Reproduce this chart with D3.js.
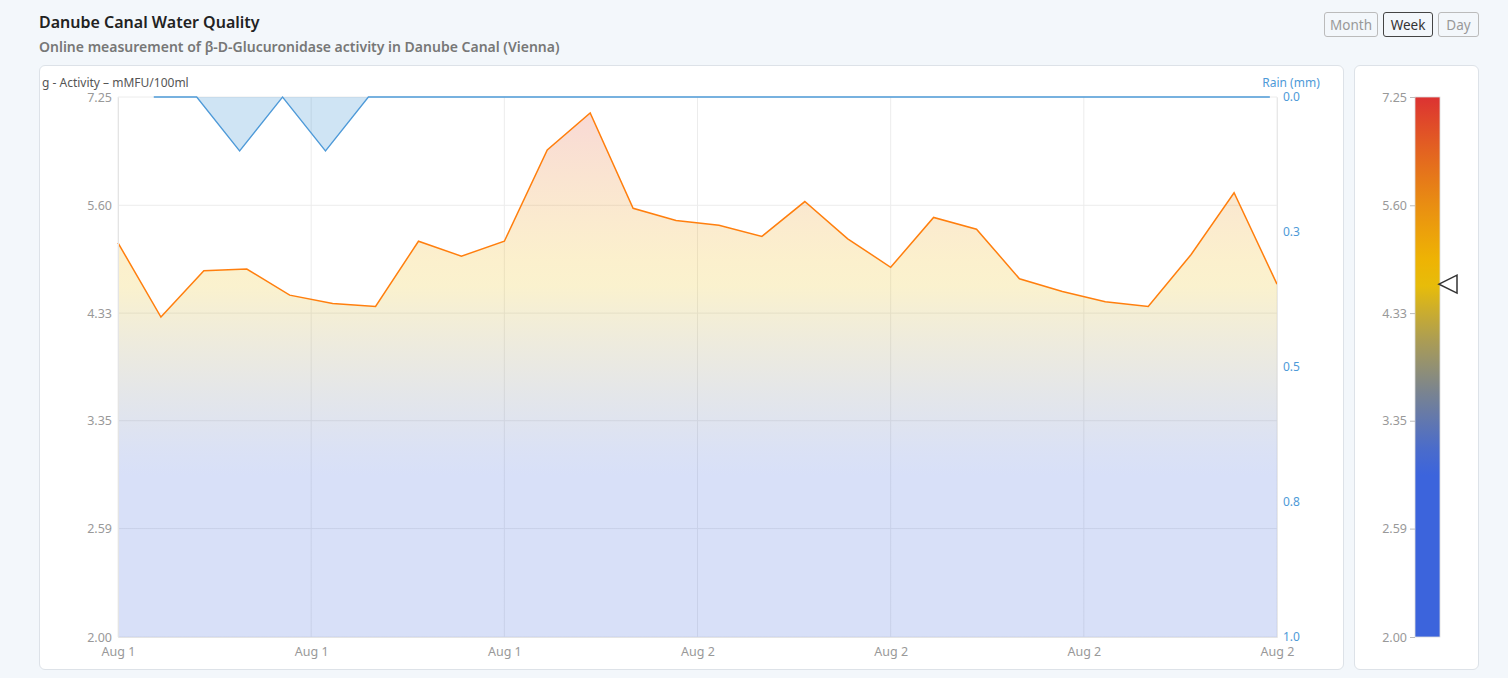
<html>
<head>
<meta charset="utf-8">
<script src="https://d3js.org/d3.v7.min.js"></script>
<style>
  body { margin: 0; background: #f3f7fb; font-family: "Noto Sans", sans-serif; width: 1508px; height: 678px; overflow: hidden; position: relative; }
  h1 { position: absolute; left: 39px; top: 11px; margin: 0; font-size: 16px; font-weight: 600; color: #222; }
  h2 { position: absolute; left: 39px; top: 37px; margin: 0; font-size: 14px; font-weight: 600; color: #777; }
  .btns button { position: absolute; top: 12px; font-family: "Noto Sans", sans-serif; font-size: 13.5px; height: 25px; padding: 0; background: #f3f7fb; border: 1px solid #bbb; border-radius: 3px; color: #999; }
  .btns button.on { border-color: #444; color: #333; }
  .card { position: absolute; background: #fff; border: 1px solid #dde2e8; border-radius: 6px; overflow: hidden; }
  svg text { font-family: "Noto Sans", sans-serif; }
</style>
</head>
<body>
<h1>Danube Canal Water Quality</h1>
<h2>Online measurement of β-D-Glucuronidase activity in Danube Canal (Vienna)</h2>
<div class="btns">
  <button style="left:1324px; width:54px;">Month</button>
  <button class="on" style="left:1383px; width:50px;">Week</button>
  <button style="left:1438px; width:41px;">Day</button>
</div>
<div class="card" id="main" style="left:39px; top:65px; width:1303px; height:603px;"></div>
<div class="card" id="bar" style="left:1354px; top:65px; width:123px; height:603px;"></div>

<script>
// hourly activity readings (mMFU/100ml)
var activity = [5.12, 4.29, 4.79, 4.81, 4.52, 4.43, 4.40, 5.14, 4.96, 5.14,
                6.39, 6.98, 5.56, 5.40, 5.34, 5.20, 5.65, 5.17, 4.83, 5.44,
                5.29, 4.70, 4.56, 4.45, 4.40, 4.98, 5.77, 4.64];
// rain readings (mm), logged a little after the activity samples
var rain = [0, 0, 0.1, 0, 0.1, 0, 0, 0, 0, 0, 0, 0, 0, 0, 0, 0, 0, 0,
            0, 0, 0, 0, 0, 0, 0, 0, 0];
var start = new Date(2024, 7, 1, 12, 0);
var rainStart = new Date(2024, 7, 1, 12, 50);
var activityTicks = [2.00, 2.59, 3.35, 4.33, 5.60, 7.25];
var rainTicks = [0, 0.25, 0.5, 0.75, 1];
var colorStops = [2, 3.0, 4.7, 7.25];
var colorRange = ["#3c64dc", "#3c64dc", "#f0c000", "#dc3232"];

var hour = 3600 * 1000;
var actData = activity.map((v, i) => ({t: new Date(+start + i * hour), v: v}));
var rainData = rain.map((v, i) => ({t: new Date(+rainStart + i * hour), v: v}));

var W = 1303, H = 603;
var m = {top: 31, right: 66, bottom: 32, left: 78};
var iw = W - m.left - m.right, ih = H - m.top - m.bottom;

var x = d3.scaleTime().domain(d3.extent(actData, d => d.t)).range([0, iw]);
var y = d3.scaleLog().domain([2, 7.25]).range([ih, 0]);
var yR = d3.scaleLinear().domain([0, 1]).range([0, ih]);
var color = d3.scaleLinear().domain(colorStops).range(colorRange);

var xTicks = d3.range(7).map(i => new Date(+x.domain()[0] + i * (x.domain()[1] - x.domain()[0]) / 6));

var svg = d3.select("#main").append("svg").attr("width", W).attr("height", H);
var defs = svg.append("defs");

function addGradient(id, y1, y2, opacity) {
  var g = defs.append("linearGradient").attr("id", id)
    .attr("gradientUnits", "userSpaceOnUse")
    .attr("x1", 0).attr("x2", 0).attr("y1", y1).attr("y2", y2);
  d3.range(0, 1.0001, 0.05).forEach(function(f) {
    var v = Math.exp(Math.log(7.25) + f * (Math.log(2) - Math.log(7.25)));
    g.append("stop").attr("offset", f).attr("stop-color", color(v)).attr("stop-opacity", opacity);
  });
}
addGradient("areaGrad", 0, ih, 0.2);

var g = svg.append("g").attr("transform", `translate(${m.left},${m.top})`);

// grid
g.append("g").selectAll("line").data(activityTicks).join("line")
  .attr("x1", 0).attr("x2", iw).attr("y1", d => y(d)).attr("y2", d => y(d))
  .attr("stroke", "#ececec");
g.append("g").selectAll("line").data(xTicks).join("line")
  .attr("y1", 0).attr("y2", ih).attr("x1", d => x(d)).attr("x2", d => x(d))
  .attr("stroke", "#ececec");

// activity area + line
g.append("path").datum(actData)
  .attr("fill", "url(#areaGrad)")
  .attr("d", d3.area().x(d => x(d.t)).y0(ih).y1(d => y(d.v)));

// rain hanging from the top
g.append("path").datum(rainData)
  .attr("fill", "#4e9ad8").attr("fill-opacity", 0.27)
  .attr("d", d3.area().x(d => x(d.t)).y0(0).y1(d => yR(d.v)));
g.append("path").datum(rainData)
  .attr("fill", "none").attr("stroke", "#4e9ad8").attr("stroke-width", 1.3)
  .attr("d", d3.line().x(d => x(d.t)).y(d => yR(d.v)));

g.append("path").datum(actData)
  .attr("fill", "none").attr("stroke", "#ff7f0e").attr("stroke-width", 1.5)
  .attr("d", d3.line().x(d => x(d.t)).y(d => y(d.v)));

// axes
var axL = g.append("g")
  .call(d3.axisLeft(y).tickValues(activityTicks).tickFormat(d3.format(".2f")).tickSize(0).tickPadding(6));
var axR = g.append("g").attr("transform", `translate(${iw},0)`)
  .call(d3.axisRight(yR).tickValues(rainTicks).tickFormat(d => d.toFixed(1)).tickSize(0).tickPadding(6));
var axB = g.append("g").attr("transform", `translate(0,${ih})`)
  .call(d3.axisBottom(x).tickValues(xTicks).tickFormat(d3.timeFormat("%b %-d")).tickSize(0).tickPadding(10));
[axL, axB].forEach(a => {
  a.select(".domain").attr("stroke", "#e4e4e4");
  a.selectAll("text").attr("fill", "#999").attr("font-size", 12.5);
});
axR.select(".domain").attr("stroke", "#e8e8e8");
axR.selectAll("text").attr("fill", "#4e9ad8").attr("font-size", 12);

svg.append("text").attr("x", 2).attr("y", 21).attr("text-anchor", "start")
  .attr("font-size", 12).attr("fill", "#555")
  .text("g - Activity – mMFU/100ml");
svg.append("text").attr("x", m.left + iw + 14).attr("y", 21).attr("text-anchor", "middle")
  .attr("font-size", 12).attr("fill", "#4e9ad8").text("Rain (mm)");

// colour bar
var bsvg = d3.select("#bar").append("svg").attr("width", 123).attr("height", H);
var bdefs = bsvg.append("defs");
var bg = bdefs.append("linearGradient").attr("id", "barGrad")
  .attr("x1", 0).attr("x2", 0).attr("y1", 0).attr("y2", 1);
d3.range(0, 1.0001, 0.05).forEach(function(f) {
  var v = y.invert(f * ih);
  bg.append("stop").attr("offset", f).attr("stop-color", color(v));
});
var bgG = bsvg.append("g").attr("transform", `translate(60,${m.top})`);
bgG.append("rect").attr("width", 25).attr("height", ih)
  .attr("fill", "url(#barGrad)").attr("stroke", "#ddd").attr("stroke-width", 0.8);
var axC = bgG.append("g")
  .call(d3.axisLeft(y).tickValues(activityTicks).tickFormat(d3.format(".2f")).tickSize(5).tickPadding(3));
axC.select(".domain").remove();
axC.selectAll("line").attr("stroke", "#bbb");
axC.selectAll("text").attr("fill", "#999").attr("font-size", 12.5);

var last = activity[activity.length - 1];
var my = y(last);
bgG.append("path")
  .attr("d", `M24,${my} L42,${my - 9} L42,${my + 9} Z`)
  .attr("fill", "#fff").attr("stroke", "#333").attr("stroke-width", 1.5);
</script>
</body>
</html>
